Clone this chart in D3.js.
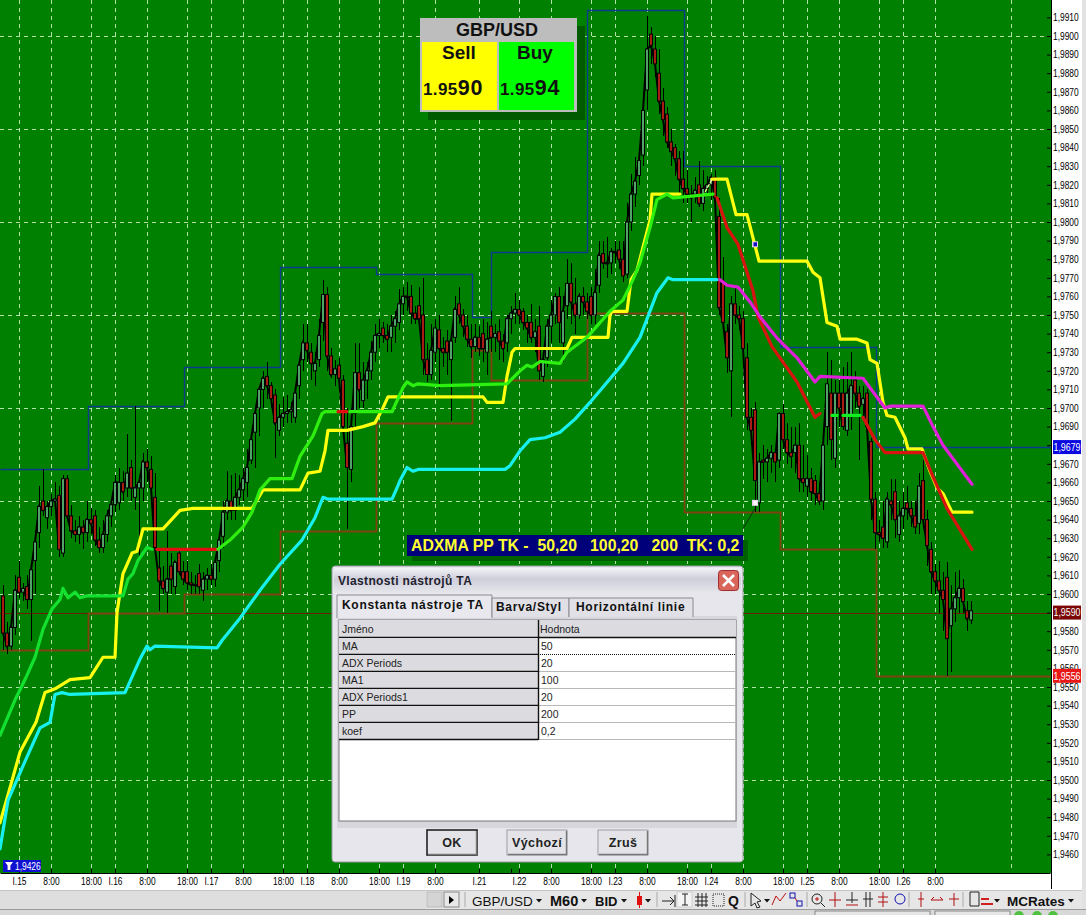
<!DOCTYPE html>
<html><head><meta charset="utf-8"><title>GBP/USD M60</title>
<script src="https://cdn.jsdelivr.net/npm/d3@7/dist/d3.min.js"></script>
<style>
html,body{margin:0;padding:0;background:#fff;overflow:hidden}
svg{display:block}
text{font-family:"Liberation Sans",Arial,sans-serif}
.ax text{font-size:10.5px;fill:#000}
</style></head><body>
<svg id="c" width="1086" height="915"></svg>
<script>
// ---- prices are the four digits after "1." (9650 = 1,9650); hours are trading bars counted from I.15 00:00
const firstHour = -4;
const opens = [
9599,9579,9572,9582,9609,9601,9604,9597,9618,9633,
9650,9641,9647,9650,9653,9622,9662,9642,9634,9632,
9636,9633,9640,9642,9629,9625,9632,9642,9648,
9649,9660,9657,9668,9652,9657,9657,9671,9667,9652,
9614,9607,9601,9615,9604,9622,9612,9612,9606,9605,
9611,9602,9608,9610,9608,9618,9631,9644,9650,
9645,9652,9656,9660,9672,9687,9700,9710,9717,9712,
9707,9688,9695,9697,9698,9695,9712,9726,9735,
9730,9720,9726,9746,9761,9728,9718,9723,9715,9681,
9667,9697,9719,9704,9715,9720,9730,9739,9743,9739,
9738,9744,9746,9756,9760,9760,9751,9755,9750,
9726,9718,9730,9742,9732,9736,9726,9738,9756,9750,
9744,9737,9733,9738,9740,9730,9744,9738,9741,9736,
9735,9748,9751,9753,9752,9746,9746,9738,9744,
9717,9727,9744,9750,9760,9735,9755,9767,9756,
9750,9760,9757,9760,9750,9766,9783,9778,9778,9784,
9785,9780,9772,9800,9815,9825,9836,9871,9901,9893,
9880,9865,9858,9843,9840,9834,9823,9818,9815,
9815,9820,9810,9818,9820,9824,9803,9768,9741,9720,
9756,9750,9748,9727,9695,9699,9649,9672,9671,9673,
9676,9672,9697,9683,9676,9676,9680,9662,9658,
9662,9661,9654,9650,9690,9708,9673,9708,9708,9688,
9696,9715,9708,9702,9708,9682,9651,9633,9636,
9628,9650,9655,9632,9642,9649,9646,9642,9638,
9661,9640,9624,9612,9607,9602,9609,9583,9592,9598,
9603,9591,9586];
const highs = [
9605,9585,9584,9610,9618,9606,9610,9615,9634,9658,
9667,9650,9654,9660,9658,9664,9664,9648,9640,9642,
9640,9650,9646,9645,9636,9640,9645,9650,9664,
9668,9666,9686,9672,9701,9662,9676,9678,9674,9665,
9625,9615,9634,9622,9618,9624,9618,9618,9612,9610,
9616,9612,9614,9616,9618,9630,9650,9666,9664,
9665,9664,9668,9678,9684,9698,9712,9720,9725,9714,
9710,9702,9706,9707,9703,9712,9726,9745,9745,
9735,9730,9748,9769,9765,9732,9726,9727,9718,9700,
9700,9735,9735,9725,9725,9736,9745,9748,9746,9745,
9750,9752,9764,9765,9768,9766,9755,9765,9770,
9735,9745,9748,9750,9738,9742,9740,9760,9765,9753,
9750,9745,9745,9744,9748,9746,9752,9745,9748,9740,
9750,9755,9762,9758,9754,9750,9756,9748,9755,
9730,9748,9758,9762,9765,9760,9780,9778,9770,
9762,9765,9762,9765,9775,9790,9790,9792,9786,9790,
9790,9790,9810,9826,9835,9840,9870,9911,9905,9900,
9893,9872,9862,9850,9842,9838,9838,9828,9820,
9824,9833,9828,9825,9826,9828,9813,9781,9745,9760,
9765,9755,9752,9735,9700,9703,9676,9680,9678,9680,
9678,9698,9702,9692,9690,9690,9692,9680,9675,
9668,9664,9660,9682,9730,9726,9715,9715,9722,9725,
9730,9720,9712,9712,9710,9684,9655,9640,9650,
9655,9662,9662,9650,9655,9658,9650,9650,9665,
9672,9645,9628,9616,9618,9612,9617,9605,9612,9613,
9608,9596,9596];
const lows = [
9570,9568,9570,9578,9598,9596,9592,9575,9600,9625,
9642,9635,9642,9645,9620,9620,9640,9630,9628,9627,
9624,9628,9632,9626,9622,9622,9628,9636,9644,
9645,9650,9652,9650,9645,9618,9650,9660,9650,9620,
9591,9600,9590,9600,9600,9610,9605,9602,9600,9600,
9600,9596,9602,9605,9604,9612,9625,9640,9640,
9640,9648,9650,9652,9670,9668,9685,9700,9705,9700,
9673,9685,9690,9692,9692,9692,9705,9720,9725,
9715,9712,9722,9736,9720,9716,9712,9712,9685,9635,
9660,9690,9700,9700,9705,9715,9725,9732,9735,9730,
9730,9735,9742,9750,9752,9745,9745,9745,9718,
9714,9715,9725,9710,9722,9718,9693,9735,9745,9738,
9733,9727,9730,9728,9725,9718,9730,9730,9726,9725,
9730,9740,9745,9745,9742,9735,9735,9730,9715,
9714,9722,9735,9745,9735,9725,9748,9745,9740,
9748,9750,9748,9745,9745,9762,9775,9770,9772,9778,
9775,9768,9770,9795,9808,9820,9830,9860,9885,9878,
9858,9846,9840,9830,9825,9815,9810,9810,9800,
9810,9808,9806,9815,9812,9810,9750,9745,9719,9695,
9745,9742,9725,9688,9680,9644,9644,9662,9660,9665,
9660,9668,9678,9670,9668,9665,9655,9655,9652,
9650,9648,9648,9645,9680,9672,9668,9690,9688,9685,
9688,9700,9672,9695,9689,9640,9624,9628,9625,
9625,9640,9630,9628,9635,9640,9636,9632,9632,
9635,9615,9600,9600,9590,9580,9556,9558,9585,9590,
9590,9580,9584];
const closes = [
9579,9572,9582,9602,9601,9603,9597,9613,9628,9647,
9645,9647,9650,9651,9624,9662,9642,9634,9632,9636,
9633,9640,9638,9629,9625,9632,9642,9648,9660,
9660,9655,9665,9657,9657,9660,9671,9668,9657,9625,
9607,9603,9608,9608,9617,9612,9608,9606,9605,9605,
9604,9608,9610,9608,9617,9629,9644,9650,9645,
9652,9656,9662,9668,9683,9697,9710,9716,9712,9705,
9692,9695,9697,9698,9699,9708,9723,9735,9731,
9724,9724,9739,9761,9728,9718,9721,9716,9690,9668,
9690,9719,9710,9715,9720,9730,9739,9740,9739,9737,
9744,9748,9756,9760,9760,9751,9748,9748,9726,
9718,9731,9743,9732,9730,9730,9736,9753,9750,9744,
9737,9733,9738,9732,9732,9737,9738,9740,9736,9732,
9748,9751,9753,9750,9746,9743,9738,9741,9720,
9726,9744,9750,9760,9746,9752,9767,9757,9750,
9760,9757,9752,9750,9762,9782,9778,9778,9784,9784,
9780,9771,9800,9815,9822,9833,9860,9893,9895,9885,
9865,9855,9843,9838,9834,9823,9818,9815,9813,
9817,9810,9818,9820,9824,9813,9754,9746,9727,9756,
9750,9748,9732,9695,9688,9661,9671,9671,9673,9676,
9671,9697,9683,9676,9674,9680,9662,9660,9662,
9655,9654,9650,9680,9713,9683,9708,9700,9690,9708,
9712,9708,9701,9705,9690,9651,9633,9632,9630,
9651,9648,9640,9642,9646,9646,9642,9636,9658,
9640,9626,9612,9607,9602,9597,9576,9592,9598,9603,
9596,9587,9591];

// yellow trailing line
const yellowH = [-4.75,-2.75,.25,4.25,6.5,9,12.75,17.75,21,24,24.5,26,27.25,28.25,29.5,31,36,40.25,43.5,58.25,61,70.25,72.25,75.25,76.5,77.25,82,86,89,90.75,92.25,116,117,121,122,123.25,124,137,138.25,147.25,147.75,148.25,152,153,154.5,157.75,158.25,165.25];
const yellowP = [9477,9492,9515,9531,9547,9549,9554,9555,9566,9566,9590,9611,9617,9622,9623,9635,9635,9645,9646,9646,9656,9656,9665,9666,9677,9688,9688,9690,9692,9699,9706,9706,9703,9703,9717,9730,9732,9732,9738,9738,9750,9752,9752,9769,9774,9801,9815,9815];
const yellow2H = [173.25,177,179.25,182,185,197,198.5,200.25,202,204.5,205.25,209.5,212,212.75,214.5,216,217,219,221.5,222.25,225.75,227.75,229.5,231,233.25,238.25];
const yellow2P = [9823,9823,9804,9804,9779,9779,9773,9770,9746,9744,9737,9737,9735,9726,9724,9703,9696,9695,9684,9678,9678,9666,9657,9654,9644,9644];
const linkH = [171,173.25];
const linkP = [9814,9823];

// MA 50: green while rising, red otherwise
const green1H = [-4.75,-1,1.5,4,6,8.25,10.25,11,12.25,14,15.25,17,26,27.25,28.5,29.75,32,33.25];
const green1P = [9524,9543,9554,9566,9581,9592,9597,9603,9598,9601,9598,9599,9599,9608,9611,9618,9625,9624];
const red1H = [34.5,49.5];
const red1P = [9624,9624];
const green2H = [49.75,52.75,56,58.25,60.25,62.75,68.25,70.25,73.5,75.75,76.5,79.75];
const green2P = [9624,9629,9636,9644,9656,9662,9662,9674,9685,9697,9698,9698];
const red2H = [79.75,82];
const red2P = [9698,9698];
const green3H = [82.75,93.25,96,97,98.5,99.75,105.25,122,125.25,127,128.25,130.25,135.25,137,142,147.75,151,153.5,155.25,157.75,159.5,162,163.5,173.5];
const green3P = [9698,9698,9711,9714,9712,9713,9712,9713,9720,9723,9722,9725,9724,9730,9738,9752,9758,9769,9778,9797,9812,9815,9813,9815];
const red3H = [174.5,177,179.75,182,183.5,184.75,188.25,194.5,199,200.25];
const red3P = [9813,9797,9788,9773,9763,9749,9733,9714,9695,9697];
const green4H = [203.25,204.5];
const green4P = [9696,9696];
const green5H = [206,210.25];
const green5P = [9696,9696];
const red4H = [211,214,216.5,218.5,226,228.5,232,238.25];
const red4P = [9695,9683,9676,9676,9676,9663,9646,9624];

// MA 100: cyan while rising, magenta while falling
const cyanH = [-4.75,-2.75,1.5,5.25,7.75,9,10.75,12.75,26.5,30.25,32,32.75,34,49.5,50.75,55.25,60.25,65.25,70.75,74,76,77.25,93.25,94.5,95.25,97,98.5,99.75,121.5,122.75,125.25,127.75,131.5,135.25,139,142.75,151,155.25,159.5,162.25,163.5,174.5];
const cyanP = [9463,9489,9510,9528,9531,9546,9547,9546,9547,9565,9572,9570,9572,9571,9575,9587,9602,9616,9629,9641,9652,9651,9651,9657,9661,9668,9666,9667,9667,9669,9677,9683,9684,9687,9694,9703,9724,9738,9762,9770,9769,9769];
const magentaH = [175.25,177,179.75,182.75,185.25,189.75,194.5,199,200.25,211,216.5,217.75,226,228.5,231,238.25];
const magentaP = [9769,9766,9765,9757,9749,9737,9727,9714,9717,9716,9700,9701,9701,9690,9680,9659];

// daily pivot steps
const stepBreaks = [-4.75,17.25,41.25,65.25,89.25,113.25,118,142,166.25,190.25,214.25,257.75];
const resistance = [9667,9701,9722,9776,9772,9749,9784,9914,9830,9733,9679];
const support = [9570,9590,9600,9634,9692,9731,9715,9751,9644,9624,9556];
const bidPrice = 9590;

const priceTicks = d3.range(9460,9920,10);
const gridPrices = d3.range(9500,9950,50);
const timeHours = [0,8,18,24,32,42,48,56,66,72,80,90,96,104,115,123,125,133,143,149,157,167,173,181,191,197,205,215,221,229];
const timeLabels = ["I.15","8:00","18:00","I.16","8:00","18:00","I.17","8:00","18:00","I.18","8:00","18:00","I.19","8:00","I.21","","I.22","8:00","18:00","I.23","8:00","18:00","I.24","8:00","18:00","I.25","8:00","18:00","I.26","8:00"];
const extraGridHours = [248];

const nameRows = ["MA","ADX Periods","MA1","ADX Periods1","PP","koef"];
const valueRows = ["50","20","100","20","200","0,2"];

// ---- scales
const x = d3.scaleLinear().domain([-4.75,257.75]).range([0,1050]);
const y = d3.scaleLinear().domain([9920,9450]).range([-1.2,873]);
const hours = d3.range(firstHour, firstHour+opens.length);
const svg = d3.select("#c");

svg.append("rect").attr("width",1086).attr("height",915).attr("fill","#fff");
const defs = svg.append("defs");
defs.append("clipPath").attr("id","plot").append("rect").attr("width",1051).attr("height",873);
const tg = defs.append("linearGradient").attr("id","title").attr("x1",0).attr("x2",0).attr("y1",0).attr("y2",1);
tg.append("stop").attr("offset",0).attr("stop-color","#f2f2f6");
tg.append("stop").attr("offset",.45).attr("stop-color","#cfcfdc");
tg.append("stop").attr("offset",1).attr("stop-color","#e4e4ea");

// ---- plot
svg.append("rect").attr("width",1051).attr("height",873).attr("fill","#008000");
const plot = svg.append("g").attr("clip-path","url(#plot)");

const gridStroke = {stroke:"#d0f0c8","stroke-width":1,"stroke-dasharray":"4 4","stroke-opacity":.85};
function applyAttrs(sel,o){Object.entries(o).forEach(([k,v])=>sel.attr(k,v));return sel;}
applyAttrs(plot.append("g").selectAll("line").data(gridPrices).join("line")
  .attr("x1",0).attr("x2",1050).attr("y1",d=>Math.round(y(d))+.5).attr("y2",d=>Math.round(y(d))+.5),gridStroke);
applyAttrs(plot.append("g").selectAll("line").data(timeHours.filter(h=>h!==123).concat(extraGridHours)).join("line")
  .attr("y1",0).attr("y2",872).attr("x1",d=>Math.round(x(d))+.5).attr("x2",d=>Math.round(x(d))+.5),gridStroke);

// bid line
plot.append("line").attr("x1",0).attr("x2",1050).attr("y1",Math.round(y(bidPrice))+.5).attr("y2",Math.round(y(bidPrice))+.5).attr("stroke","#6e1c00").attr("stroke-width",1);

// pivot steps
function steps(vals,color,w){
  const pts=[];vals.forEach((v,i)=>{pts.push([stepBreaks[i],v]);pts.push([stepBreaks[i+1],v]);});
  plot.append("path").attr("d",d3.line().x(d=>Math.round(x(d[0]))+.5).y(d=>Math.round(y(d[1]))+.5)(pts)).attr("fill","none").attr("stroke",color).attr("stroke-width",w);
}
steps(resistance,"#0c3c90",1.4);
steps(support,"#7f4212",1.8);

// candles
plot.append("g").selectAll("line").data(hours).join("line")
  .attr("x1",d=>x(d)).attr("x2",d=>x(d))
  .attr("y1",(d,i)=>y(highs[i])).attr("y2",(d,i)=>y(lows[i]))
  .attr("stroke","#000").attr("stroke-width",1).attr("shape-rendering","crispEdges");
plot.append("path")
  .attr("d",d3.line().x(d=>x(d)).y((d,i)=>y(closes[i]))(hours))
  .attr("fill","none").attr("stroke","#000").attr("stroke-width",2);
plot.append("g").selectAll("rect").data(hours).join("rect")
  .attr("x",d=>x(d)-1.5).attr("width",3)
  .attr("y",(d,i)=>y(Math.max(opens[i],closes[i])))
  .attr("height",(d,i)=>Math.max(1,Math.abs(y(opens[i])-y(closes[i]))))
  .attr("fill",(d,i)=>closes[i]<opens[i]?"#a81c14":"#50a468")
  .attr("stroke","#000").attr("stroke-width",1);

// indicator lines
const ln = d3.line().x(d=>x(d[0])).y(d=>y(d[1])).curve(d3.curveLinear);
function series(hs,ps,color,w,dash){
  const p=plot.append("path").attr("d",ln(hs.map((h,i)=>[h,ps[i]]))).attr("fill","none").attr("stroke",color)
    .attr("stroke-width",w).attr("stroke-linejoin","round").attr("stroke-linecap","round");
  if(dash)p.attr("stroke-dasharray",dash);
}
const lw=3.2;
series(yellowH,yellowP,"#ffff10",lw);
series(yellow2H,yellow2P,"#ffff10",lw);
series(linkH,linkP,"#ffffa0",1.2,"3 2");
series(green1H,green1P,"#14e030",lw);
series(red1H,red1P,"#e01010",lw);
series(green2H,green2P,"#30ee10",lw);
series(red2H,red2P,"#e01010",lw);
series(green3H,green3P,"#2cf010",lw);
series(red3H,red3P,"#d81410",lw);
series(green4H,green4P,"#10f020",lw);
series(green5H,green5P,"#10f020",lw);
series(red4H,red4P,"#d81410",lw);
series(cyanH,cyanP,"#18f0f0",lw);
series(magentaH,magentaP,"#e020d8",lw);

// small signal markers
function marker(h,p,inner){
  plot.append("rect").attr("x",x(h)-3).attr("y",y(p)-3).attr("width",6).attr("height",6).attr("fill","#e8d0f0");
  plot.append("rect").attr("x",x(h)-1.5).attr("y",y(p)-2).attr("width",3.5).attr("height",4).attr("fill",inner);
}
marker(184,9788,"#1010c0");
marker(184,9649,"#fff");
plot.append("line").attr("x1",x(184)).attr("y1",y(9646)).attr("x2",x(181)).attr("y2",y(9635)).attr("stroke","#103010").attr("stroke-width",1);

// ---- axes
function narrow(sel,k){sel.each(function(){const l=this.getComputedTextLength();if(l>0){this.setAttribute("textLength",l*k);this.setAttribute("lengthAdjust","spacingAndGlyphs");}});}
const yAxis = d3.axisRight(y).tickValues(priceTicks).tickFormat(d=>"1,"+d).tickSizeInner(-4).tickSizeOuter(0).tickPadding(2);
svg.append("g").attr("class","ax").attr("transform","translate(1051,0)").call(yAxis)
  .call(g=>g.select(".domain").attr("stroke","#000"))
  .call(g=>g.selectAll(".tick line").attr("stroke","#000"))
  .call(g=>narrow(g.selectAll("text"),.8));
svg.append("rect").attr("x",1052).attr("y",873).attr("width",34).attr("height",17).attr("fill","#fff");
svg.append("rect").attr("x",0).attr("y",874).attr("width",1051).attr("height",16).attr("fill","#fff");
const xAxis = d3.axisBottom(x).tickValues(timeHours).tickFormat((d,i)=>timeLabels[i]).tickSizeInner(-4).tickSizeOuter(0).tickPadding(5);
svg.append("g").attr("class","ax").attr("transform","translate(0,873)").call(xAxis)
  .call(g=>g.select(".domain").attr("stroke","#000").attr("stroke-width",1.2))
  .call(g=>g.selectAll(".tick line").attr("stroke","#000"))
  .call(g=>narrow(g.selectAll("text"),.8));
svg.append("line").attr("x1",1051.5).attr("x2",1051.5).attr("y1",872).attr("y2",889).attr("stroke","#000");

// price flags on the axis
function flag(px,py,w,h,fill,label,fs){
  svg.append("rect").attr("x",px).attr("y",py).attr("width",w).attr("height",h).attr("fill",fill);
  svg.append("text").attr("x",px+w/2).attr("y",py+h/2+3.7).attr("text-anchor","middle").attr("fill","#fff").attr("font-size",fs||11).text(label).call(s=>narrow(s,.8));
}
flag(1053,y(resistance[10])-7,28,14,"#0a0ae0","1,"+resistance[10]);
flag(1053,y(bidPrice)-7,28,14,"#7a0808","1,"+bidPrice);
flag(1053,y(support[10])-7,28,14,"#e81818","1,"+support[10]);
svg.append("rect").attr("x",3).attr("y",860).attr("width",38).attr("height",12).attr("fill","#1010d0");
svg.append("path").attr("d","M5 862h8l-2.6 3.5v4.5h-2.8v-4.5z").attr("fill","#fff");
svg.append("text").attr("x",15).attr("y",869.8).attr("fill","#fff").attr("font-size",10.5).text("1,9426").call(s=>narrow(s,.8));

// ---- quote panel
const Q = svg.append("g");
Q.append("rect").attr("x",428).attr("y",26).attr("width",157).attr("height",94).attr("fill","#005a00");
Q.append("rect").attr("x",420).attr("y",18).attr("width",157).attr("height",94).attr("fill","#bdbdbd");
Q.append("rect").attr("x",422).attr("y",42).attr("width",75).attr("height",68).attr("fill","#ffff00");
Q.append("rect").attr("x",499).attr("y",42).attr("width",75).attr("height",68).attr("fill","#00ff00");
const B=(xx,yy,fs,t,anchor)=>Q.append("text").attr("x",xx).attr("y",yy).attr("font-size",fs).attr("font-weight","bold").attr("fill","#111").attr("text-anchor",anchor||"middle").text(t);
B(497,36,18,"GBP/USD");
B(459,59,19,"Sell");
B(535,59,19,"Buy");
function price(xx,small,big){
  const t=Q.append("text").attr("x",xx).attr("y",95).attr("font-weight","bold").attr("fill","#111");
  t.append("tspan").attr("font-size",17).attr("letter-spacing",.4).text(small);
  t.append("tspan").attr("font-size",21.5).attr("letter-spacing",.8).text(big);
}
price(423,"1.95","90");
price(500,"1.95","94");

// ---- study caption
svg.append("rect").attr("x",412).attr("y",540).attr("width",336).attr("height",21).attr("fill","#006000");
svg.append("rect").attr("x",407).attr("y",535).attr("width",336).attr("height",21).attr("fill","#00007a");
svg.append("text").attr("x",411).attr("y",551).attr("font-size",15.8).attr("font-weight","bold").attr("fill","#ffff30")
  .attr("xml:space","preserve").style("white-space","pre").text("ADXMA PP TK -  50,20   100,20   200  TK: 0,2");

// ---- dialog
const D = svg.append("g");
D.append("rect").attr("x",332).attr("y",566).attr("width",411).attr("height",296).attr("rx",3).attr("fill","#e6e6ec").attr("stroke","#9a9aa4");
D.append("rect").attr("x",334).attr("y",568).attr("width",407).attr("height",24).attr("rx",2).attr("fill","url(#title)");
D.append("text").attr("x",338).attr("y",584.5).attr("font-size",12).attr("font-weight","bold").attr("fill","#22222e").attr("letter-spacing",".35").text("Vlastnosti nástrojů TA");
D.append("rect").attr("x",718.5).attr("y",570.5).attr("width",20).attr("height",20).attr("rx",3).attr("fill","#d9655b").attr("stroke","#a03030");
D.append("path").attr("d","M723 575l11 11M734 575l-11 11").attr("stroke","#fff").attr("stroke-width",2.6);
// tabs
D.append("rect").attr("x",337).attr("y",616).attr("width",400).attr("height",212).attr("fill","#d6d6dc");
D.append("path").attr("d","M337 618V595h155v23").attr("fill","#e8e8ee").attr("stroke","#8a8a92");
D.append("path").attr("d","M492 617V598h77v19").attr("fill","#e0e0e6").attr("stroke","#8a8a92");
D.append("path").attr("d","M569 617V598h124v19").attr("fill","#e0e0e6").attr("stroke","#8a8a92");
const tab=(xx,yy,t)=>D.append("text").attr("x",xx).attr("y",yy).attr("font-size",12).attr("font-weight","bold").attr("fill","#111").attr("letter-spacing",".7").text(t);
tab(342,609,"Konstanta nástroje TA");
tab(496,611,"Barva/Styl");
tab(576,611,"Horizontální linie");
// property table
const rowH=17, tx=339, tm=538, tr=736, ty=620;
D.append("rect").attr("x",tx).attr("y",ty).attr("width",tr-tx).attr("height",201).attr("fill","#fff").attr("stroke","#777");
D.append("rect").attr("x",tx).attr("y",ty).attr("width",tr-tx).attr("height",rowH).attr("fill","#dcdce0");
D.append("line").attr("x1",tx).attr("x2",tr).attr("y1",ty+rowH+.5).attr("y2",ty+rowH+.5).attr("stroke","#111").attr("stroke-width",1.4);
const cell=(xx,yy,t)=>D.append("text").attr("x",xx).attr("y",yy).attr("font-size",10.5).attr("fill","#222").text(t);
cell(tx+3,ty+12.5,"Jméno"); cell(tm+2,ty+12.5,"Hodnota");
nameRows.forEach((n,i)=>{
  const ry=ty+rowH*(i+1);
  D.append("rect").attr("x",tx).attr("y",ry+1).attr("width",tm-tx).attr("height",rowH-1).attr("fill","#dcdce0");
  D.append("line").attr("x1",tx).attr("x2",tm).attr("y1",ry+rowH+.5).attr("y2",ry+rowH+.5).attr("stroke","#111").attr("stroke-width",1.4);
  D.append("line").attr("x1",tm).attr("x2",tr).attr("y1",ry+rowH+.5).attr("y2",ry+rowH+.5).attr("stroke",i==0?"#111":"#b8b8b8").attr("stroke-dasharray",i==0?"1 1":null);
  cell(tx+3,ry+13,n); cell(tm+3,ry+13,valueRows[i]);
});
D.append("line").attr("x1",tm+.5).attr("x2",tm+.5).attr("y1",ty).attr("y2",ty+rowH*7+1).attr("stroke","#111").attr("stroke-width",1.4);
// buttons
[[427,50,"OK",true],[507,60,"Výchozí",false],[598,50,"Zruš",false]].forEach(([bx,bw,t,def])=>{
  D.append("rect").attr("x",bx).attr("y",830).attr("width",bw).attr("height",25).attr("fill","#e4e4e8").attr("stroke",def?"#222":"#9c9ca4").attr("stroke-width",def?1.6:1);
  D.append("path").attr("d",`M${bx+1} 854.5h${bw-1}M${bx+bw-.5} 831v24`).attr("stroke","#777").attr("stroke-width",1.4);
  D.append("text").attr("x",bx+bw/2).attr("y",847).attr("text-anchor","middle").attr("font-size",12.5).attr("font-weight","bold").attr("fill","#222").attr("letter-spacing",".4").text(t);
});

// ---- toolbar
const T = svg.append("g");
T.append("rect").attr("y",890).attr("width",1086).attr("height",19).attr("fill","#e6e6e6");
T.append("rect").attr("y",890).attr("width",426).attr("height",19).attr("fill","#dedede");
T.append("line").attr("x1",0).attr("x2",1086).attr("y1",890.5).attr("y2",890.5).attr("stroke","#c4c4c4");
T.append("rect").attr("y",909).attr("width",1086).attr("height",6).attr("fill","#d8d8d8");
T.append("line").attr("x1",0).attr("x2",1086).attr("y1",909.5).attr("y2",909.5).attr("stroke","#9a9a9a");
T.append("rect").attr("x",1082).attr("y",0).attr("width",4).attr("height",909).attr("fill","#e2e2e2");
T.append("rect").attr("x",427).attr("y",892).attr("width",15).attr("height",15).attr("fill","#d4d4d4").attr("stroke","#bbb");
T.append("rect").attr("x",444).attr("y",892).attr("width",15).attr("height",15).attr("fill","#e8e8e8").attr("stroke","#888");
T.append("path").attr("d","M449 896l5 4-5 4z").attr("fill","#000");
const tbText=(xx,t,w,fs)=>T.append("text").attr("x",xx).attr("y",906).attr("font-size",fs||14).attr("font-weight",w||"normal").attr("fill","#111").text(t);
tbText(472,"GBP/USD",null,13.5);
tbText(550,"M60","bold",14.5);
tbText(595,"BID","bold",13);
tbText(1007,"MCRates","bold",13.5);
[536,581,621,645,764,994,1068].forEach(cx=>T.append("path").attr("d",`M${cx} 899h6l-3 3.5z`).attr("fill","#111"));
T.append("rect").attr("x",637).attr("y",896).attr("width",5).attr("height",9).attr("fill","#e01010");
T.append("line").attr("x1",639.5).attr("x2",639.5).attr("y1",892).attr("y2",908).attr("stroke","#e01010");
[465,657,745,807,909,963].forEach(s=>T.append("line").attr("x1",s).attr("x2",s).attr("y1",892).attr("y2",907).attr("stroke","#aaa"));
// icon row
T.append("g").attr("fill","none").attr("stroke","#222").attr("stroke-width",1).call(g=>{
  g.append("path").attr("d","M662 901h11M670 897l4 4-4 4M675 895v12");
  g.append("rect").attr("x",677).attr("y",892).attr("width",15).attr("height",15).attr("fill","#f4f4f4").attr("stroke","#ccc");
  g.append("path").attr("d","M685 894v11M682 894h6M682 905h6");
  g.append("path").attr("d","M695 897h13M695 901h13M695 905h13M698 893v14M702 893v14M706 893v14");
  g.append("path").attr("d","M713 894h11v12h-11z").attr("stroke-dasharray","1 1");
  g.append("path").attr("d","M751 893l10 8-4 1 3 5-3 1-2-5-4 3z");
  g.append("path").attr("d","M772 905l4-9 4 5 6-8").attr("stroke","#c01010");
  g.append("rect").attr("x",790).attr("y",893).attr("width",5).attr("height",5).attr("stroke","#1010b0");
  g.append("rect").attr("x",797).attr("y",901).attr("width",5).attr("height",5).attr("stroke","#1010b0");
  g.append("path").attr("d","M795 898l2 3").attr("stroke","#c01010");
  g.append("circle").attr("cx",817).attr("cy",899).attr("r",5);
  g.append("path").attr("d","M815 899h4M817 897v4").attr("stroke","#c01010");
  g.append("path").attr("d","M821 903l4 4");
  g.append("path").attr("d","M835 892v15M829 900h12").attr("stroke","#b01010");
  g.append("path").attr("d","M852 892v11M846 900h12");
  g.append("path").attr("d","M846 905h12").attr("stroke","#b01010");
  g.append("path").attr("d","M866 892v15M870 892v15M863 899h10");
  g.append("path").attr("d","M883 892v15M878 897h10M878 902h10").attr("stroke","#b01010");
  g.append("circle").attr("cx",900).attr("cy",899).attr("r",5).attr("stroke","#1010b0");
  g.append("path").attr("d","M921 892v15M918 899h6").attr("stroke","#b01010");
  g.append("path").attr("d","M931 900h12M931 900l3-3M943 900l-3-3").attr("stroke","#b01010");
  g.append("path").attr("d","M954 893v13M949 899h10").attr("stroke","#b01010");
  g.append("path").attr("d","M970 892h9v14h-9z");
  g.append("path").attr("d","M981 899h8M981 904h12").attr("stroke","#d02020").attr("stroke-width",2);
});
T.append("text").attr("x",728).attr("y",906).attr("font-size",14).attr("font-weight","bold").attr("fill","#111").text("Q");
// status bar stubs
[[815,115],[935,75]].forEach(([sx,sw])=>T.append("rect").attr("x",sx).attr("y",911).attr("width",sw).attr("height",5).attr("fill","#e6e6e6").attr("stroke","#888"));
[1019,1037,1053].forEach(cx=>T.append("circle").attr("cx",cx).attr("cy",916).attr("r",5).attr("fill","#50c040"));
</script>
</body></html>
